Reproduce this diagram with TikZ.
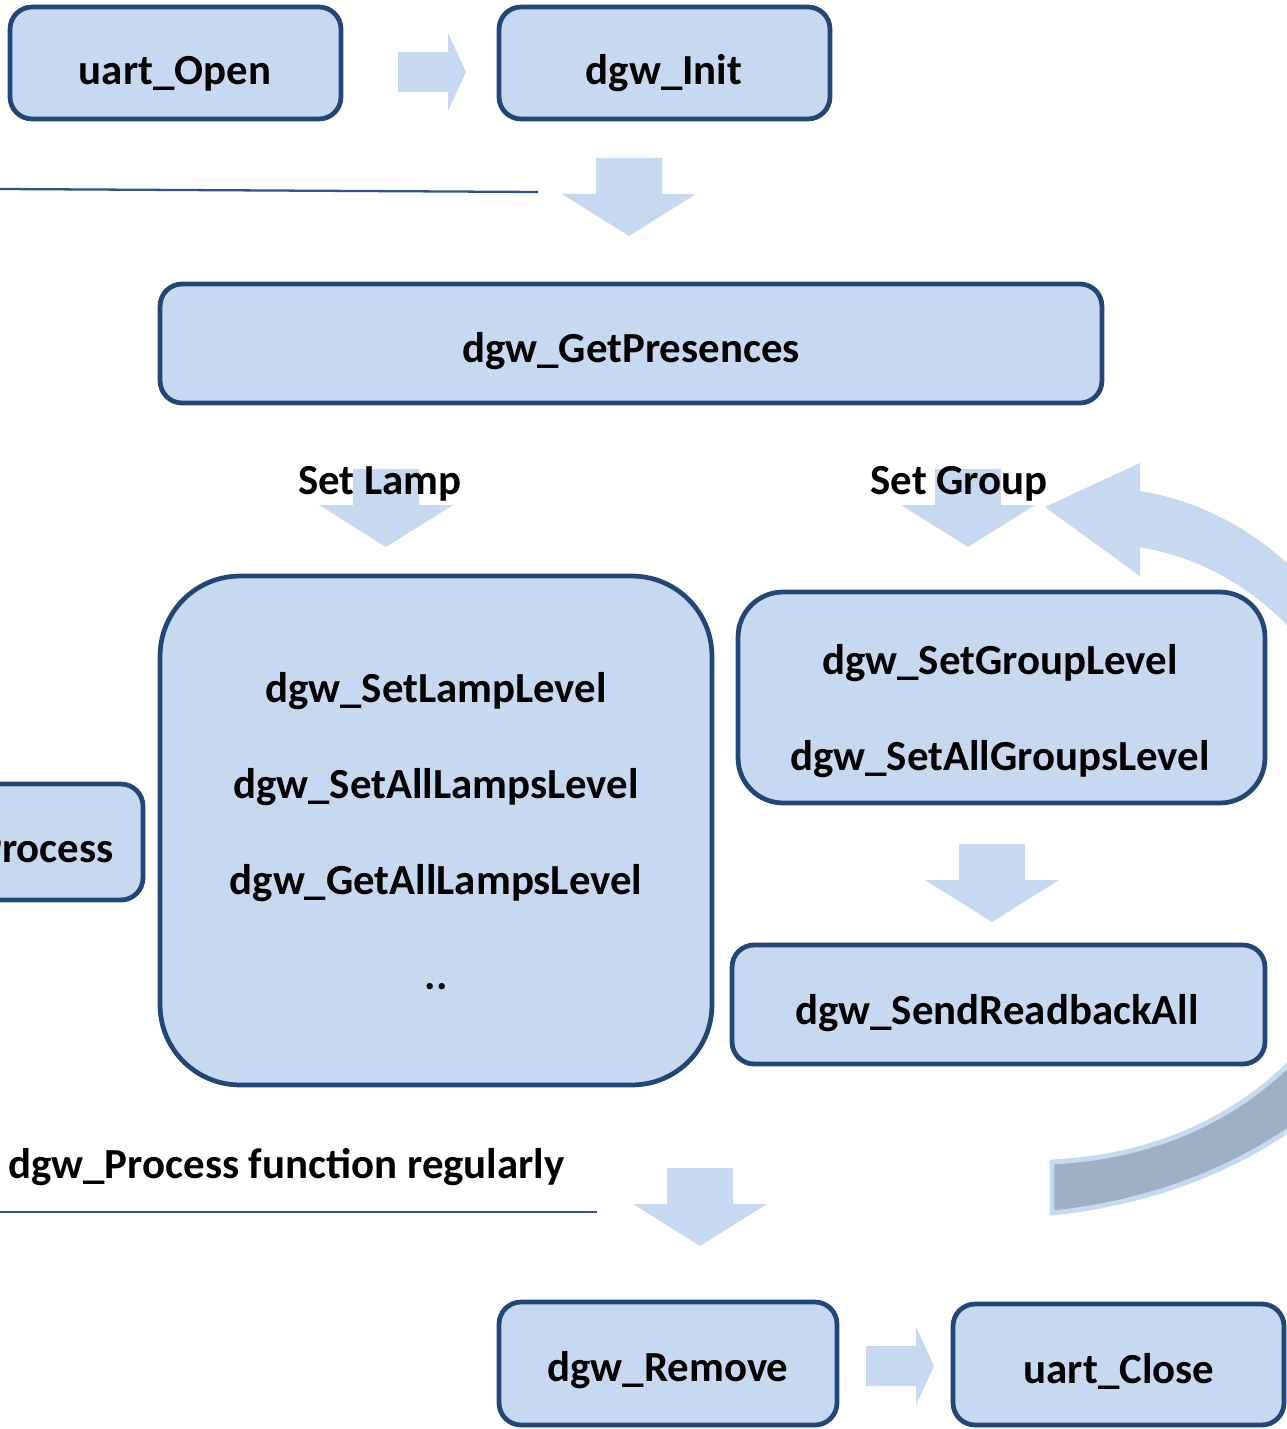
\documentclass[tikz,border=0pt]{standalone}
\usepackage{fontspec}
\setmainfont{Carlito}
\definecolor{boxfill}{RGB}{198,217,241}
\definecolor{boxline}{RGB}{33,70,120}
\definecolor{arrowfill}{RGB}{198,217,241}
\definecolor{shade}{RGB}{159,176,196}
\definecolor{rulecol}{RGB}{45,85,140}
\newcommand\mydownarrow[2]{\fill[blk] (#1-33,#2-78) -- (#1+33,#2-78) -- (#1+33,#2-42) -- (#1+67,#2-42) -- (#1,#2) -- (#1-67,#2-42) -- (#1-33,#2-42) -- cycle;}
\newcommand\myrightarrow[2]{\fill[blk] (#1-68,#2-20) -- (#1-18,#2-20) -- (#1-18,#2-39) -- (#1,#2) -- (#1-18,#2+39) -- (#1-18,#2+20) -- (#1-68,#2+20) -- cycle;}
\begin{document}
\begin{tikzpicture}[x=0.02cm,y=-0.02cm,
  box/.style={draw=boxline, fill=boxfill, line width=2.7pt, rounded corners=#1, inner sep=0pt},
  box/.default=0.44cm,
  txt/.style={anchor=base, inner sep=0pt, font=\fontsize{24.4}{29}\selectfont\bfseries},
  blk/.style={fill=arrowfill},
  rulestyle/.style={draw=rulecol, line width=1.3pt}]
\useasboundingbox (0,0) rectangle (1287,1429);
\clip (0,0) rectangle (1287,1429);

% circular arrow (behind boxes)
\fill[arrowfill] plot[domain=-82.5:-30, samples=40] ({1100+308*cos(\x)},{853+365*sin(\x)})
  -- plot[domain=-30:-81.7, samples=40] ({1100+277*cos(\x)},{853+309*sin(\x)})
  -- (1140,576) -- (1045,507) -- (1140,463) -- cycle;
\filldraw[fill=shade, draw=arrowfill, line width=2.8pt, line join=miter]
  (1052,1213) .. controls (1150,1203) and (1250,1168) .. (1330,1098) -- (1310,1042)
  .. controls (1240,1122) and (1150,1157) .. (1052,1162) -- cycle;

% top row
\node[box, minimum width=6.62cm, minimum height=2.24cm] (uopen) at (175.5,63) {};
\node[box, minimum width=6.62cm, minimum height=2.24cm] (dinit) at (664.5,63) {};
\node[txt] (uopent) at (175,85) {uart\_Open};
\node[txt] (dinitt) at (664,85) {dgw\_Init};
\myrightarrow{466}{72}
\draw[rulestyle] (0,189) coordinate (l1a) -- (538,192) coordinate (l1b);
\mydownarrow{629}{236}

\node[box, minimum width=18.84cm, minimum height=2.38cm] (pres) at (631,343.5) {};
\node[txt] (prest) at (631,362) {dgw\_GetPresences};

% set lamp / set group
\mydownarrow{386}{547}
\mydownarrow{968}{547}
\node[txt] (setlamp) at (380,494) {Set Lamp};
\node[txt] (setgroup) at (959,494) {Set Group};

% lamp box
\node[box=1.6cm, minimum width=11.04cm, minimum height=10.18cm] (lamp) at (436,830.5) {};
\node[txt] (l1) at (436,702) {dgw\_SetLampLevel};
\node[txt] (l2) at (436,798) {dgw\_SetAllLampsLevel};
\node[txt] (l3) at (436,894) {dgw\_GetAllLampsLevel};
\node[txt] (l4) at (436,989) {..};

% process box (cut at left edge)
\node[box, minimum width=5.86cm, minimum height=2.32cm] (proc) at (-3.5,842) {};
\node[txt, anchor=base east] (proct) at (114,862) {Process};

% group box
\node[box=0.9cm, minimum width=10.54cm, minimum height=4.22cm] (group) at (1001.5,697.5) {};
\node[txt] (g1) at (1000,674) {dgw\_SetGroupLevel};
\node[txt] (g2) at (1000,770) {dgw\_SetAllGroupsLevel};
\mydownarrow{992}{922}
\node[box, minimum width=10.66cm, minimum height=2.38cm] (rb) at (998.5,1004.5) {};
\node[txt] (rbt) at (997,1024) {dgw\_SendReadbackAll};

% bottom
\node[txt, anchor=base west] (regular) at (8,1178) {dgw\_Process function regularly};
\draw[rulestyle] (0,1212) coordinate (l2a) -- (597,1212) coordinate (l2b);
\mydownarrow{700}{1246}
\node[box, minimum width=6.76cm, minimum height=2.46cm] (remove) at (668,1363.5) {};
\node[txt] (removet) at (668,1381) {dgw\_Remove};
\myrightarrow{934}{1366}
\node[box, minimum width=6.62cm, minimum height=2.42cm] (uclose) at (1118.5,1364.5) {};
\node[txt] (ucloset) at (1119,1383) {uart\_Close};
\end{tikzpicture}
\end{document}
